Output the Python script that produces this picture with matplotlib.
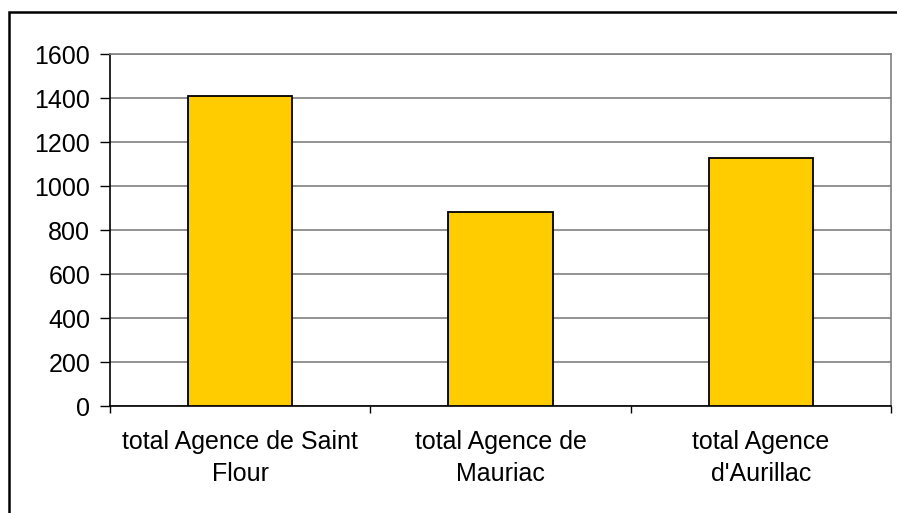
import matplotlib
matplotlib.use("Agg")
import matplotlib.pyplot as plt
from matplotlib.patches import Rectangle

categories = ["total Agence de Saint\nFlour", "total Agence de\nMauriac", "total Agence\nd'Aurillac"]
values = [1410, 882, 1128]
yticks = [0, 200, 400, 600, 800, 1000, 1200, 1400, 1600]

plt.rcParams['font.family'] = ['Liberation Sans', 'DejaVu Sans']

W, H = 897, 513
fig = plt.figure(figsize=(W/100, H/100), dpi=100)
left, right, top, bottom = 110, 891, 54, 406
ax = fig.add_axes([left/W, 1-bottom/H, (right-left)/W, (bottom-top)/H])

x = list(range(len(categories)))
ax.bar(x, values, width=0.4, color="#FFCC00", edgecolor="black", linewidth=1.3, zorder=3)
ax.set_xlim(-0.5, len(categories)-0.5)
ax.set_ylim(0, 1600)
ax.set_yticks(yticks)
ax.set_yticklabels([str(v) for v in yticks], fontsize=18)
ax.yaxis.grid(True, color="#808080", linewidth=1.2, zorder=0)
ax.set_axisbelow(True)

ax.set_xticks([i-0.5 for i in range(len(categories)+1)])
ax.set_xticklabels([])
ax.tick_params(axis='x', length=5, width=1, direction='out', color='black')
ax.tick_params(axis='y', length=7.2, width=1, direction='out', color='black', pad=7)
for i, c in enumerate(categories):
    ax.text(i, -0.068, c, transform=ax.get_xaxis_transform(), ha='center', va='top',
            fontsize=18, linespacing=1.45)

for s in ['left', 'bottom']:
    ax.spines[s].set_color('black')
    ax.spines[s].set_linewidth(1.2)
for s in ['right', 'top']:
    ax.spines[s].set_color('#808080')
    ax.spines[s].set_linewidth(1.2)

fig.patches.append(Rectangle((9/W, -0.1), 1.2, 1-12/H+0.1, transform=fig.transFigure,
                             fill=False, edgecolor='black', linewidth=1.8))

fig.savefig("out.png", dpi=100)
